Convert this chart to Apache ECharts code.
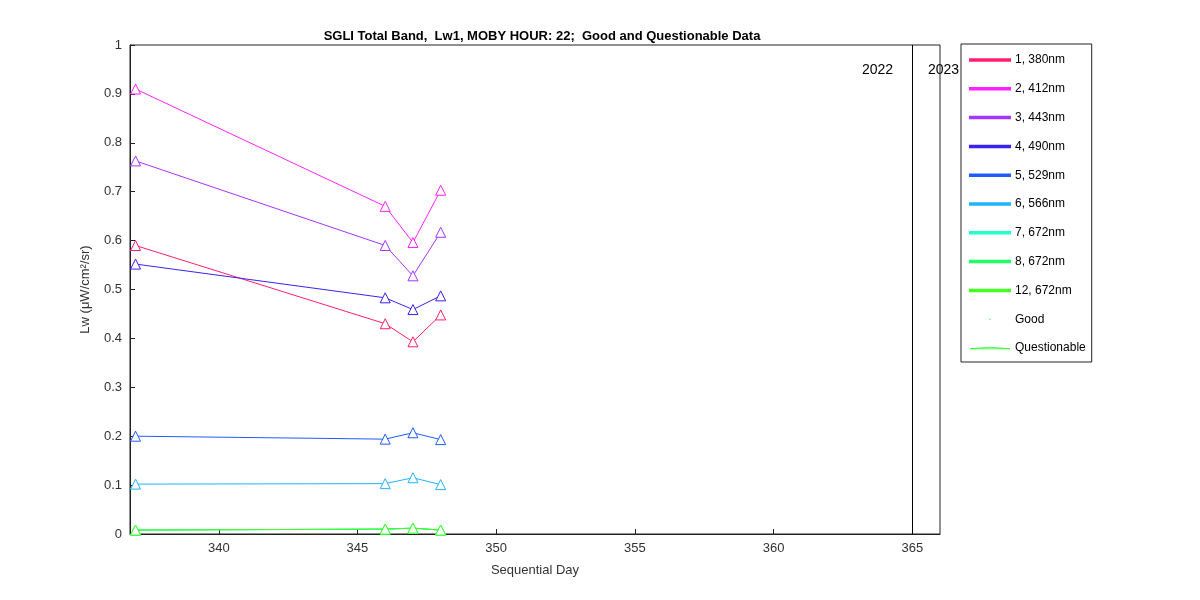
<!DOCTYPE html>
<html><head><meta charset="utf-8">
<script src="https://cdn.jsdelivr.net/npm/echarts@6/dist/echarts.min.js"></script>
<style>body{margin:0}#c{width:1200px;height:600px}</style></head>
<body><div id="c"></div>
<script>
const days = [337, 346, 347, 348];
const names = ['1, 380nm','2, 412nm','3, 443nm','4, 490nm','5, 529nm','6, 566nm','7, 672nm','8, 672nm','12, 672nm'];
const colors = ['#ff1f6e','#ff22ff','#a535ff','#3a22ee','#1f5cff','#22b4ff','#22ffd0','#22ff66','#44ff22'];
const v380 = [0.590, 0.430, 0.393, 0.448];
const v412 = [0.910, 0.670, 0.596, 0.703];
const v443 = [0.763, 0.590, 0.528, 0.617];
const v490 = [0.552, 0.483, 0.459, 0.487];
const v529 = [0.200, 0.194, 0.207, 0.193];
const v566 = [0.102, 0.103, 0.115, 0.101];
const v672a = [0.008, 0.010, 0.012, 0.008];
const v672b = [0.008, 0.010, 0.012, 0.008];
const v672c = [0.008, 0.010, 0.012, 0.008];
const xTicks = [340, 345, 350, 355, 360, 365];
const yearLineX = 365;
const vals = [v380,v412,v443,v490,v529,v566,v672a,v672b,v672c];
const series = vals.map((v,i)=>({
  name:names[i], type:'line', data:days.map((d,j)=>[d,v[j]]),
  symbol:'triangle', symbolSize:10, itemStyle:{color:'#fff',borderColor:colors[i],borderWidth:1},
  lineStyle:{color:colors[i],width:1}, color:colors[i]
}));
series.push({name:'Good',type:'scatter',data:[],symbol:'circle',symbolSize:3,itemStyle:{color:'#22ff22'}});
series.push({name:'Questionable',type:'scatter',data:[],symbol:'triangle',symbolSize:9,itemStyle:{color:'#fff',borderColor:'#22ff22',borderWidth:1}});
series[0].markLine={silent:true,symbol:'none',label:{show:false},lineStyle:{color:'#000',width:1,type:'solid'},data:[{xAxis:yearLineX}]};
const legendData = names.map((n,i)=>({name:n,icon:'rect',itemStyle:{color:colors[i]}}))
  .concat([{name:'Good',icon:'circle',itemStyle:{color:'#22ff22'}},{name:'Questionable',icon:'triangle',itemStyle:{color:'#fff',borderColor:'#22ff22',borderWidth:1}}]);
const chart = echarts.init(document.getElementById('c'));
chart.setOption({
  animation:false, backgroundColor:'#fff',
  textStyle:{fontFamily:'Liberation Sans, Arial'},
  title:{text:'SGLI Total Band,  Lw1, MOBY HOUR: 22;  Good and Questionable Data',left:537,top:25,textAlign:'center',textStyle:{fontSize:13,fontWeight:'bold',color:'#000'}},
  grid:{left:130,right:260,top:45,bottom:66},
  xAxis:{type:'value',min:336.8,max:366,name:'Sequential Day',nameLocation:'middle',nameGap:30,
    nameTextStyle:{fontSize:13,color:'#333'},
    axisLabel:{fontSize:13,color:'#333',customValues:xTicks},
    axisLine:{lineStyle:{color:'#222'}},axisTick:{inside:true,length:5,customValues:xTicks,lineStyle:{color:'#222'}},splitLine:{show:false}},
  yAxis:{type:'value',min:0,max:1,interval:0.1,name:'Lw (\u03bcW/cm\u00b2/sr)',nameLocation:'middle',nameGap:38,
    nameTextStyle:{fontSize:13,color:'#333'},
    axisLabel:{fontSize:13,color:'#333',formatter:v=>+v.toFixed(1)},
    axisLine:{lineStyle:{color:'#222'}},axisTick:{inside:true,length:5,lineStyle:{color:'#222'}},splitLine:{show:false}},
  legend:{orient:'vertical',left:961,top:44,data:legendData,itemWidth:40,itemHeight:1.5,itemGap:16.8,
    borderColor:'#222',borderWidth:1,padding:[10,6,8,8],textStyle:{fontSize:12,color:'#000'},backgroundColor:'#fff'},
  graphic:[
    {type:'text',left:862,top:63,style:{text:'2022',fontSize:14,fill:'#000'}},
    {type:'text',left:928,top:63,style:{text:'2023',fontSize:14,fill:'#000'}},
    {type:'rect',shape:{x:130,y:45,width:810,height:489},style:{fill:'none',stroke:'#222',lineWidth:1},silent:true}
  ],
  series
});
</script></body></html>
